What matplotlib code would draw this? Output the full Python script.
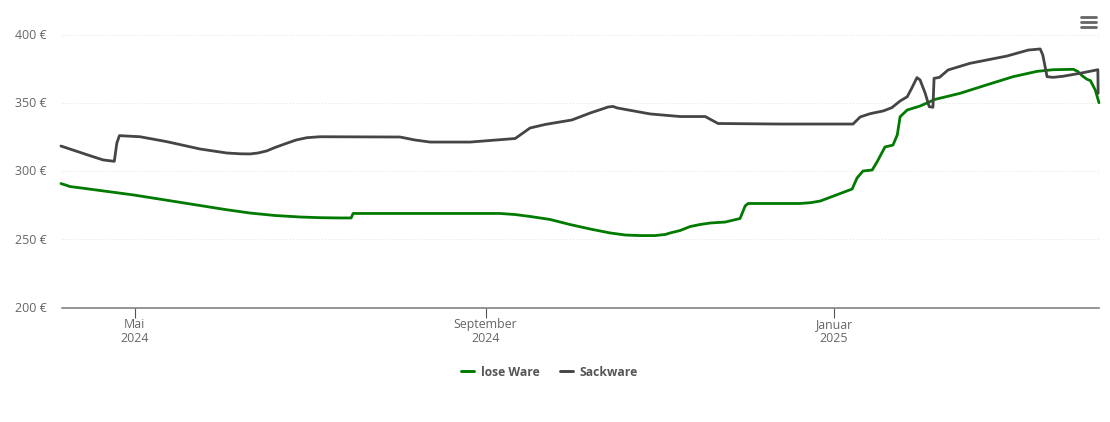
import datetime as dt
import matplotlib
matplotlib.use("Agg")
import matplotlib.pyplot as plt
import matplotlib.dates as mdates
from matplotlib.lines import Line2D
from matplotlib.transforms import ScaledTranslation

plt.rcParams['font.family'] = ['Open Sans', 'DejaVu Sans']

BASE = dt.datetime(2024, 5, 1)
green_days = [-25.8,-24,-22.6,-17.4,-0.2,23,31.7,40.5,49.2,58,65,72,75.9,76.6,93,128,133.4,138.6,145.6,152.6,159.7,166.7,172,177.2,182.4,186,187.7,191.2,194.7,198.2,201.7,207,212.2,214,215,233.2,237,240.3,247.3,251.5,253.2,255.3,258.5,260.2,263,265.8,267.3,268.3,270.8,275.3,280.6,289.3,298.8,307.9,316.3,321.9,329,330.5,332.2,333.8,335,336.7,338]
green_vals = [290.8,289.6,288.6,287.2,282.4,274.7,271.8,269.2,267.4,266.3,265.8,265.6,265.6,268.9,268.9,268.9,268.1,266.7,264.5,260.8,257.5,254.6,253.1,252.7,252.7,253.5,254.6,256.4,259.3,260.8,261.9,262.6,265.2,274.4,276.2,276.2,276.8,278,283.5,286.8,294.9,300,300.7,306.6,317.6,319,326.4,339.8,344.7,347.6,352.5,356.9,363.2,369.1,373,374.2,374.5,373,369.6,367.2,366.2,359.3,350]
black_days = [-25.8,-15.6,-11,-7.1,-6.2,-5.3,1.9,11.3,23,32.3,37,40.5,43.3,46.3,49.2,53.3,56.6,60.4,65,93,98.3,103.6,117.6,133.4,138.6,143.9,153.3,159.7,166,167.7,169.1,180.7,191.2,200,204.5,226.2,251.8,254.3,257.8,262.4,265.4,268.3,270.8,272.4,274.2,275.3,277.1,278.5,279.8,280.2,282.1,285.1,292.8,305.7,313.2,317.4,318.3,319.8,321.9,325.4,331.4,337.6,337.7]
black_vals = [318.3,311.2,308.1,307.1,320.5,325.9,325.1,321.5,316.1,313.2,312.6,312.5,313.2,314.7,317.2,320.3,322.7,324.4,325.1,324.9,322.7,321.2,321.2,323.8,331.5,334.1,337.4,342.5,346.9,347.3,346.2,341.8,339.9,339.9,334.8,334.4,334.4,339.6,342,344,346.4,351.3,354.4,360.8,368.4,366.7,356.9,347.1,346.7,367.9,368.6,374,378.9,384.2,388.6,389.4,385,369.1,368.6,369.4,371.6,374.2,356.9]
y_ticks = [200, 250, 300, 350, 400]
x_ticks = [dt.datetime(2024, 5, 1), dt.datetime(2024, 9, 1), dt.datetime(2025, 1, 1)]
x_labels = ['Mai\n2024', 'September\n2024', 'Januar\n2025']
series_names = ['lose Ware', 'Sackware']

W, H = 1110, 422
fig = plt.figure(figsize=(W/100, H/100), dpi=100, facecolor='white')
ax = fig.add_axes([61.5/W, 1-307.5/H, 1037.5/W, 273/H])

to_dates = lambda ds: [BASE + dt.timedelta(days=d) for d in ds]
kw = dict(lw=2.0, solid_joinstyle='round', solid_capstyle='round', clip_on=False)
ax.plot(to_dates(green_days), green_vals, color='#007a00', label=series_names[0], zorder=3, **kw)
ax.plot(to_dates(black_days), black_vals, color='#454545', label=series_names[1], zorder=4, **kw)

ax.set_xlim(BASE + dt.timedelta(days=-25.6), BASE + dt.timedelta(days=338))
ax.set_ylim(200, 400)
ax.set_yticks(y_ticks)
ax.set_yticklabels([f'{v} €' for v in y_ticks])
ax.set_xticks([mdates.date2num(t) for t in x_ticks])
ax.set_xticklabels(x_labels, linespacing=1.12)
ax.tick_params(axis='y', length=0, pad=10.5, labelsize=8.9, labelcolor='#666666')
ax.tick_params(axis='x', length=7, width=0.8, color='#555555', pad=0.5, labelsize=8.9, labelcolor='#666666')
shift = ScaledTranslation(0, -0.7/72, fig.dpi_scale_trans)
for lab in ax.get_yticklabels():
    lab.set_verticalalignment('center')
    lab.set_transform(lab.get_transform() + shift)
ax.grid(axis='y', color='#e2e2e2', lw=0.7, ls=(0, (1, 2)))
ax.set_axisbelow(True)
for s in ['top', 'left', 'right']:
    ax.spines[s].set_visible(False)
ax.spines['bottom'].set_color('#777777')
ax.spines['bottom'].set_linewidth(1.1)

leg = fig.legend(loc='center', bbox_to_anchor=(549.5/W, 1-372/H), ncol=2, frameon=False,
                 prop={'size': 8.7, 'weight': 'bold'}, labelcolor='#555555',
                 handlelength=1.1, handletextpad=0.55, columnspacing=1.7,
                 borderpad=0, borderaxespad=0)
for h in leg.get_lines():
    h.set_linewidth(2.1)

for yp in (16.5, 21.5, 26.5):
    fig.add_artist(Line2D([1081/W, 1095.5/W], [1-yp/H, 1-yp/H], color='#666666', lw=2.0,
                          solid_capstyle='round', transform=fig.transFigure))

fig.savefig('out.png', dpi=100, facecolor='white')
